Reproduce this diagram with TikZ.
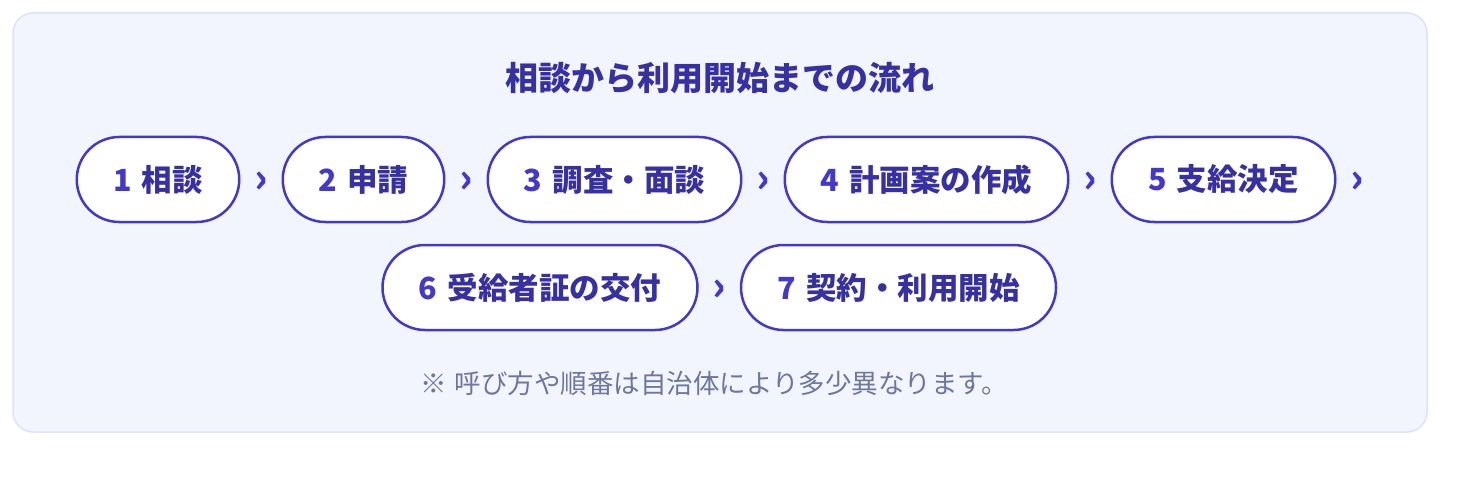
\documentclass[tikz,border=0pt]{standalone}
\usepackage{fontspec}
\setmainfont{Noto Sans CJK JP}
\usetikzlibrary{
  positioning,
  shapes.misc,
  calc
}
\definecolor{panelfill}{HTML}{F3F5FE}
\definecolor{panelline}{HTML}{DDE3FA}
\definecolor{stepline}{HTML}{4338CA}
\definecolor{steptext}{HTML}{3730A3}
\definecolor{notetext}{HTML}{6E76A0}
\newcommand{\stepno}[1]{\textcolor{stepline}{#1}\hspace{10pt}}

\begin{document}
\begin{tikzpicture}[
x=1pt, y=1pt,
pillnode/.style={rounded rectangle, draw=stepline, line width=2.5pt, fill=white,
  minimum height=85pt, inner xsep=0pt, text=steptext,
  font=\fontsize{30.5}{36}\selectfont\bfseries},
chevnode/.style={text=stepline, inner sep=0pt, font=\fontsize{40}{44}\selectfont\bfseries},
node distance=41pt,
]
\useasboundingbox (0,0) rectangle (1464,-500);
%Panel
\draw[panelline, fill=panelfill, line width=1.5pt, rounded corners=20pt] (13,-13) rectangle (1427,-432);

%Title
\node[text=steptext, font=\fontsize{33}{38}\selectfont\bfseries] (title) at (720,-78) {相談から利用開始までの流れ};

%Nodes
\node[pillnode, minimum width=162.5pt] (s1) at (158,-179.5) {\stepno{1}相談};
\node[pillnode, minimum width=161.5pt] (s2) [right=of s1] {\stepno{2}申請};
\node[pillnode, minimum width=253.5pt] (s3) [right=of s2] {\stepno{3}調査・面談};
\node[pillnode, minimum width=283.5pt] (s4) [right=of s3] {\stepno{4}計画案の作成};
\node[pillnode, minimum width=223.5pt] (s5) [right=of s4] {\stepno{5}支給決定};
\node[pillnode, minimum width=315pt] (s6) at (540,-287.5) {\stepno{6}受給者証の交付};
\node[pillnode, minimum width=315pt] (s7) [right=of s6] {\stepno{7}契約・利用開始};

%Chevrons
\node[chevnode] (c1) at ($(s1.east)!0.5!(s2.west)+(0,-3)$) {›};
\node[chevnode] (c2) at ($(s2.east)!0.5!(s3.west)+(0,-3)$) {›};
\node[chevnode] (c3) at ($(s3.east)!0.5!(s4.west)+(0,-3)$) {›};
\node[chevnode] (c4) at ($(s4.east)!0.5!(s5.west)+(0,-3)$) {›};
\node[chevnode] (c5) [right=14pt of s5, yshift=-3pt] {›};
\node[chevnode] (c6) at ($(s6.east)!0.5!(s7.west)+(0,-3)$) {›};

%Note
\node[text=notetext, font=\fontsize{26.5}{30}\selectfont] (note) at (714,-383) {※\hspace{8pt}呼び方や順番は自治体により多少異なります。};
\end{tikzpicture}
\end{document}
